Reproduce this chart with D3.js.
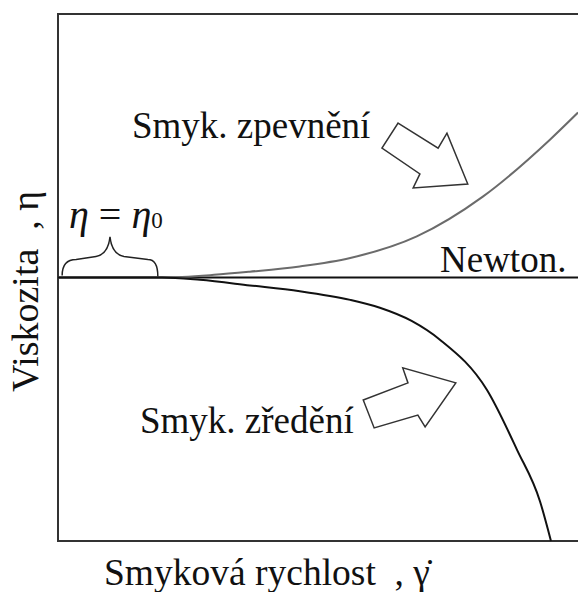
<!DOCTYPE html>
<html>
<head>
<meta charset="utf-8">
<script src="https://cdn.jsdelivr.net/npm/d3@7"></script>
<style>
  body { margin: 0; background: #fff; }
  text { font-family: "Liberation Serif", "Times New Roman", serif; fill: #111; }
</style>
</head>
<body>
<div id="chart"></div>
<script>
// shear rate (arbitrary units) and relative viscosity eta/eta0
var rate        = [0, 2, 3, 3.69, 4.65, 5.62, 6.9, 8.17, 9.46, 10];
var thickening  = [1, 1, 1.01, 1.022, 1.042, 1.074, 1.156, 1.307, 1.523, 1.626];
var rateThin    = [0, 2, 2.73, 3.69, 4.65, 5.62, 6.19, 6.8, 7.35, 8.25, 8.83, 9.27, 9.48];
var thinning    = [1, 1, 0.991, 0.97, 0.948, 0.915, 0.885, 0.835, 0.763, 0.573, 0.345, 0.15, 0];
var newtonRate  = [0, 10];
var newtonVisc  = [1, 1];

// block arrows, in data units
var arrowUp   = [[6.54,1.586],[7.31,1.491],[7.48,1.548],[7.88,1.355],[6.83,1.340],[6.96,1.393],[6.23,1.491]];
var arrowDown = [[5.87,0.535],[6.73,0.600],[6.63,0.657],[7.65,0.600],[7.06,0.433],[6.92,0.478],[6.08,0.429]];
// brace over the zero-shear plateau
var braceFrom = 0.08, braceTo = 1.92, braceTop = 1.154;

var width = 578, height = 592;
var margin = {top: 14, left: 58, bottom: 51};

var x = d3.scaleLinear().domain([0, 10]).range([margin.left, width]);
var y = d3.scaleLinear().domain([0, 2]).range([height - margin.bottom, margin.top]);

var svg = d3.select('#chart').append('svg')
    .attr('width', width)
    .attr('height', height);

// frame
svg.append('path')
  .attr('d', 'M' + (width + 2) + ',' + y(2) + 'H' + x(0) + 'V' + y(0) + 'H' + (width + 2))
  .attr('fill', 'none')
  .attr('stroke', '#333')
  .attr('stroke-width', 2);

var line = d3.line()
  .x(function(d) { return x(d[0]); })
  .y(function(d) { return y(d[1]); })
  .curve(d3.curveMonotoneX);

svg.append('path')
  .datum(d3.zip(newtonRate, newtonVisc))
  .attr('d', line)
  .attr('fill', 'none')
  .attr('stroke', '#111')
  .attr('stroke-width', 2);

svg.append('path')
  .datum(d3.zip(rate, thickening))
  .attr('d', line)
  .attr('fill', 'none')
  .attr('stroke', '#6b6b6b')
  .attr('stroke-width', 2);

svg.append('path')
  .datum(d3.zip(rateThin, thinning))
  .attr('d', line)
  .attr('fill', 'none')
  .attr('stroke', '#111')
  .attr('stroke-width', 2);

// arrows
var poly = d3.line()
  .x(function(d) { return x(d[0]); })
  .y(function(d) { return y(d[1]); })
  .curve(d3.curveLinearClosed);

[arrowUp, arrowDown].forEach(function(a) {
  svg.append('path')
    .attr('d', poly(a))
    .attr('fill', '#fff')
    .attr('stroke', '#333')
    .attr('stroke-width', 1.5)
    .attr('stroke-linejoin', 'miter');
});

// brace
var bx0 = x(braceFrom), bx1 = x(braceTo), bm = (bx0 + bx1) / 2;
var by0 = y(1) - 2, byMid = y(1) - 18, byTop = y(braceTop);
var brace = d3.path();
brace.moveTo(bx0, by0);
brace.quadraticCurveTo(bx0, byMid, bx0 + 14, byMid);
brace.lineTo(bm - 14, byMid - 3);
brace.quadraticCurveTo(bm - 2, byMid - 5, bm, byTop);
brace.quadraticCurveTo(bm + 2, byMid - 5, bm + 14, byMid - 3);
brace.lineTo(bx1 - 10, byMid);
brace.quadraticCurveTo(bx1, byMid, bx1, by0 + 1);
svg.append('path')
  .attr('d', brace.toString())
  .attr('fill', 'none')
  .attr('stroke', '#222')
  .attr('stroke-width', 1.5);

// labels
svg.append('text').attr('x', 132).attr('y', 138)
  .style('font-size', '37px').text('Smyk. zpevnění');
svg.append('text').attr('x', 140).attr('y', 433)
  .style('font-size', '37px').text('Smyk. zředění');
svg.append('text').attr('x', 440).attr('y', 272)
  .style('font-size', '37px').text('Newton.');

var eta = svg.append('text').attr('x', 69).attr('y', 228)
  .style('font-size', '40px');
eta.append('tspan').style('font-style', 'italic').text('η');
eta.append('tspan').text(' = ');
eta.append('tspan').style('font-style', 'italic').text('η');
eta.append('tspan').style('font-size', '23px').text('0');

svg.append('text').attr('x', 104).attr('y', 585)
  .attr('xml:space', 'preserve')
  .style('white-space', 'pre')
  .style('font-size', '37.5px').text('Smyková rychlost  , γ̇');

svg.append('text')
  .attr('transform', 'translate(38,392) rotate(-90)')
  .style('white-space', 'pre')
  .style('font-size', '38px').text('Viskozita  , η');
</script>
</body>
</html>
